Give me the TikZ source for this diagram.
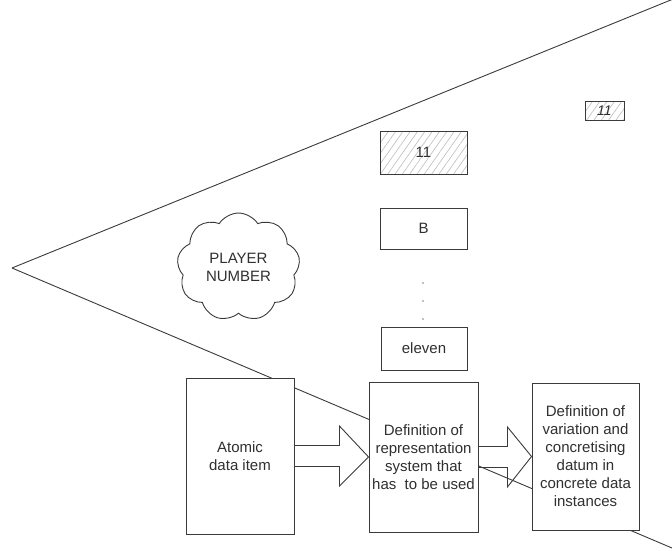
\documentclass[tikz,border=0pt]{standalone}
\usepackage{fontspec}
\setmainfont{Liberation Sans}
\usetikzlibrary{shapes.symbols,patterns.meta,calc}
\definecolor{ink}{HTML}{3A3A3A}
\definecolor{txt}{HTML}{303030}
\definecolor{hatch}{HTML}{BDBDBD}

\begin{document}
\begin{tikzpicture}[x=1pt,y=-1pt,
  thinline/.style={draw=ink, line width=0.9pt},
  boxbase/.style={draw=ink, line width=0.9pt, text=txt, align=center,
    inner sep=0pt, font=\fontsize{15}{18}\selectfont},
  box/.style={boxbase, fill=white},
  hatched/.style={boxbase, preaction={fill=white},
    pattern={Lines[angle=55,distance=6pt,line width=0.6pt]}, pattern color=hatch},
  blockarrow/.style={draw=ink, line width=0.9pt, line join=miter},
  dotmark/.style={circle, fill=gray, inner sep=0pt, minimum size=1.6pt},
  cloudnode/.style={cloud, cloud puffs=9, cloud puff arc=115, aspect=1.15,
    draw=ink, line width=0.9pt, fill=white, text=txt, align=center, inner sep=0pt,
    minimum width=123, minimum height=108, font=\fontsize{15}{18}\selectfont}
]
\useasboundingbox (0,0) rectangle (672,550);

% the two long sides of the wedge
\coordinate (apex) at (12,268);
\coordinate (topend) at (672,-0.5);
\coordinate (botend) at (672,548);
\draw[thinline] (apex) -- (topend);
\draw[thinline] (apex) -- (botend);

% representation examples
\node[hatched, minimum width=39, minimum height=19, font=\fontsize{14}{16}\selectfont\itshape]
  (small11) at (604.5,110.5) {11};
\node[hatched, minimum width=87, minimum height=43] (num11) at (423.5,152.5) {11};
\node[box, minimum width=87, minimum height=41] (letterB) at (423.5,228.5) {B};
\node[dotmark] (dotA) at (423,283) {};
\node[dotmark] (dotB) at (423,301) {};
\node[dotmark] (dotC) at (423,319) {};
\node[box, minimum width=86, minimum height=43] (word) at (424,348.5) {eleven};

% concept
\node[cloudnode] (concept) at (238.5,267) {PLAYER\\NUMBER};

% process chain
\node[box, minimum width=108, minimum height=156] (atomic) at (240,456) {Atomic\\data item};
\node[box, minimum width=109, minimum height=150] (rep) at (423.5,457)
  {Definition of\\representation\\system that\\has\ \ to be used};
\node[box, minimum width=107, minimum height=147] (concrete) at (585.5,456.5)
  {Definition of\\variation and\\concretising\\datum in\\concrete data\\instances};

% block arrows between the stages (outline only)
\draw[blockarrow] ($(atomic.east)+(0,-10.5)$) -- ++(45,0) -- ++(0,-19.5)
  -- (rep.west) -- ($(atomic.east)+(45,30)$) -- ++(0,-19.5)
  -- ($(atomic.east)+(0,10.5)$);
\draw[blockarrow] ($(rep.east)+(0,-10.5)$) -- ++(29,0) -- ++(0,-19.5)
  -- (concrete.west) -- ($(rep.east)+(29,30)$) -- ++(0,-19.5)
  -- ($(rep.east)+(0,10.5)$);
\end{tikzpicture}
\end{document}
